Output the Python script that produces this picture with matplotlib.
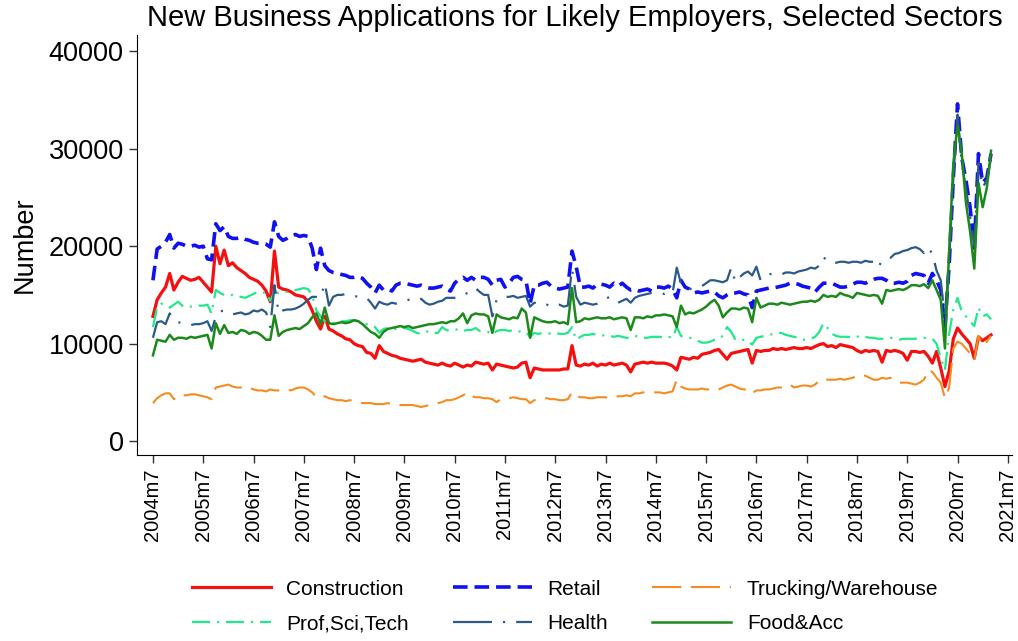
import numpy as np
import matplotlib
matplotlib.use("Agg")
import matplotlib.pyplot as plt

plt.rcParams['font.family'] = ['Liberation Sans', 'DejaVu Sans']
plt.rcParams['lines.scale_dashes'] = False

# monthly values, 2004m7 .. 2021m3 (one row = July..June)
construction = [
    12800, 14500, 15200, 15800, 17200, 15500, 16300, 16900, 16700, 16500, 16600, 16800,
    16300, 15800, 15300, 20000, 18200, 19600, 18000, 18300, 17800, 17500, 17200, 16800,
    16600, 16400, 16000, 15400, 14300, 19500, 15800, 15600, 15500, 15300, 15000, 14900,
    14800, 14300, 13400, 12300, 11500, 12800, 11500, 11300, 11000, 10800, 10500, 10400,
    10000, 9800, 9700, 9100, 9000, 8500, 9800, 9200, 9000, 8800, 8700, 8500,
    8400, 8300, 8200, 8300, 8400, 8100, 8000, 7900, 7800, 8000, 7800, 7700,
    8000, 7800, 7600, 7800, 7700, 8100, 8000, 7900, 8000, 7300, 7900, 7800,
    7700, 7600, 7500, 7600, 8000, 8100, 6500, 7500, 7400, 7300, 7300, 7300,
    7300, 7300, 7400, 7400, 9800, 7800, 7700, 7900, 7800, 8000, 7700, 7900,
    7800, 8000, 7800, 7900, 8000, 7800, 7100, 7900, 8000, 8100, 8000, 8100,
    8000, 8000, 8000, 7900, 7700, 7300, 8600, 8500, 8400, 8600, 8500, 8900,
    9000, 9100, 9300, 9400, 8900, 8400, 9000, 9100, 9200, 9300, 9400, 8000,
    9300, 9200, 9300, 9300, 9500, 9400, 9500, 9400, 9500, 9600, 9500, 9500,
    9600, 9500, 9700, 9900, 10000, 9700, 9800, 9600, 9900, 9800, 9700, 9600,
    9300, 9100, 9300, 9200, 9300, 9200, 8100, 9300, 9200, 9300, 9200, 9000,
    8300, 9200, 9200, 9100, 9200, 8700, 8000, 9200, 7500, 5600, 7200, 10500,
    11600, 11000, 10500, 10000, 8500, 10700, 10300, 10600, 10900]

retail = [
    16500, 19700, 20000, 20400, 21200, 19800, 20300, 20200, 20000, 20000, 20100, 19900,
    20000, 18700, 18600, 22300, 21600, 22000, 21000, 20800, 20800, 20900, 20700, 20600,
    20400, 20300, 20300, 20200, 19900, 22500, 21000, 20600, 20800, 21100, 21200, 21000,
    21100, 21000, 19800, 17600, 19800, 18000, 17500, 17300, 17200, 17100, 17000, 16800,
    16800, 16900, 16700, 16200, 15800, 15200, 16000, 15500, 15600, 15400, 16000, 16200,
    16200, 16100, 16000, 15900, 16000, 15800, 15700, 15700, 15800, 15900, 15600, 15400,
    16200, 16600, 16800, 16500, 16800, 16500, 16800, 16800, 16600, 16000, 16500, 16600,
    15800, 16200, 16800, 16900, 16600, 16500, 14100, 16000, 16000, 16200, 16300, 15900,
    15700, 15600, 15700, 15800, 19500, 17900, 15800, 15800, 15900, 15700, 16100, 16100,
    16000, 15800, 16200, 15900, 16200, 15800, 15500, 15600, 15400, 15500, 15600, 15400,
    15800, 15800, 15700, 15900, 15600, 14700, 16500, 15800, 15600, 15200, 15300, 15200,
    15300, 15400, 15300, 14900, 14700, 15000, 15200, 15200, 15300, 15100, 15000, 13700,
    15400, 15500, 15600, 15700, 15700, 15800, 15900, 16000, 16200, 16200, 16100, 15900,
    15800, 15700, 15300, 15800, 16200, 16200, 16200, 16000, 15800, 15800, 15900, 16100,
    16300, 16300, 16200, 16400, 16600, 16700, 16700, 16500, 16200, 16200, 16300, 16200,
    16400, 17000, 17200, 17100, 17000, 16200, 17200, 16500, 15500, 11800, 18000, 27000,
    34600, 29100, 26800, 24000, 19800, 29500, 26500, 27000, 29500]

trucking = [
    3900, 4400, 4700, 4900, 4900, 4300, 4700, 4700, 4700, 4800, 4800, 4700,
    4600, 4500, 4300, 5500, 5600, 5700, 5800, 5600, 5500, 5500, 5400, 5500,
    5300, 5200, 5200, 5100, 5300, 5200, 5200, 5200, 5300, 5200, 5400, 5500,
    5500, 5300, 5000, 4500, 4500, 4600, 4400, 4300, 4200, 4200, 4100, 4200,
    4100, 4000, 3900, 3900, 3900, 3800, 3800, 3800, 3900, 3800, 3800, 3700,
    3700, 3700, 3700, 3600, 3500, 3600, 3700, 3800, 3900, 4000, 4200, 4200,
    4300, 4500, 4700, 5000, 4600, 4500, 4500, 4400, 4400, 4300, 4000, 4300,
    4400, 4400, 4500, 4400, 4300, 4300, 3900, 4200, 4300, 4400, 4400, 4300,
    4300, 4200, 4200, 4300, 5000, 4600, 4500, 4500, 4400, 4400, 4500, 4500,
    4500, 4400, 4500, 4600, 4600, 4700, 4600, 4900, 4900, 5000, 5000, 5000,
    5000, 5000, 4900, 5000, 5100, 6300, 5600, 5400, 5300, 5300, 5300, 5400,
    5300, 5300, 5200, 5300, 5500, 5700, 5800, 5600, 5400, 5300, 5300, 4900,
    5200, 5200, 5300, 5300, 5400, 5500, 5500, 5600, 5800, 5500, 5600, 5700,
    5700, 5600, 5800, 6200, 6400, 6300, 6300, 6300, 6400, 6300, 6400, 6500,
    6700, 6800, 6700, 6500, 6300, 6300, 6500, 6400, 6500, 6300, 6000, 6000,
    6000, 5900, 5800, 6000, 6300, 7300, 7100, 6500, 6000, 4400, 5500, 9500,
    10200, 10000, 9500, 9000, 8300, 10800, 9800, 10200, 10800]

prof_sci_tech = [
    11700, 13700, 14100, 14000, 13700, 14000, 14300, 13900, 13700, 13800, 13800, 13900,
    13900, 14000, 13100, 15500, 15200, 15000, 14900, 15000, 14800, 14800, 14700, 14900,
    15100, 15300, 15200, 15300, 14400, 15300, 15200, 15300, 15300, 15400, 15500, 15600,
    15700, 15600, 15000, 13400, 12800, 12300, 12100, 12100, 12200, 12300, 12300, 12400,
    12400, 12300, 12200, 12000, 11900, 11700, 11100, 11500, 11600, 11600, 11500, 11700,
    11600, 11500, 11300, 11100, 11000, 11200, 11300, 11100, 11100, 11700, 11400, 11300,
    11400, 11500, 11300, 11400, 11400, 11600, 11300, 11200, 11200, 10900, 11300, 11400,
    11400, 11300, 11400, 11300, 11200, 11200, 10700, 11100, 11000, 11100, 11100, 11000,
    11100, 11000, 11000, 11100, 11700, 10400, 10700, 10900, 10900, 11000, 10900, 10800,
    10900, 10800, 10700, 10800, 10700, 10600, 10600, 10800, 10700, 10600, 10600, 10700,
    10700, 10700, 10600, 10700, 10600, 11700, 10800, 10600, 10600, 10500, 10300, 10100,
    10100, 10200, 10400, 10500, 10800, 11700, 11200, 10400, 10300, 10400, 10300, 9900,
    10600, 10700, 10800, 10900, 11000, 11100, 11100, 10900, 10800, 10700, 10600, 10400,
    10400, 10500, 10700, 11200, 12100, 11600, 11000, 10800, 10700, 10700, 10700, 10600,
    10700, 10800, 10700, 10600, 10600, 10500, 10500, 10500, 10600, 10500, 10400, 10500,
    10500, 10500, 10500, 10600, 10600, 10500, 10500, 10000, 8500, 7300, 11000, 13500,
    14700, 13300, 12800, 12300, 11800, 13700, 12800, 13000, 12500]

health = [
    10600, 12200, 12300, 12000, 13100, 12400, 12200, 12100, 12000, 11900, 12000, 12000,
    12100, 12300, 11300, 12800, 13300, 13400, 13200, 13000, 13100, 13200, 13000, 13100,
    13400, 13300, 13500, 13200, 11700, 16000, 13100, 13400, 13500, 13500, 13600, 13800,
    14100, 14500, 14800, 14800, 14700, 16200, 13900, 14800, 15000, 15000, 15100, 15000,
    14900, 14800, 14800, 14700, 14200, 13600, 14300, 14100, 14000, 14200, 14100, 14200,
    14300, 14500, 14500, 14400, 14600, 14200, 14000, 14100, 14300, 14400, 14700, 14700,
    14700, 14800, 14900, 15200, 15300, 15700, 15300, 15000, 15000, 12800, 14500, 14700,
    14800, 14800, 14900, 14700, 14800, 14900, 13800, 14200, 14100, 13900, 14000, 13800,
    13900, 14000, 13800, 13900, 17700, 14800, 14000, 14200, 14100, 14000, 14100, 14300,
    14600, 14800, 14500, 14200, 14400, 14600, 14200, 14700, 14900, 15000, 15100, 15200,
    15200, 15200, 15100, 15300, 15200, 17800, 16200, 15700, 15600, 15600, 15700, 15900,
    16200, 16500, 16500, 16400, 16300, 16500, 17800, 16300, 16800, 17200, 17400, 17000,
    17900, 16500, 16800, 17100, 17200, 17200, 17100, 17300, 17300, 17200, 17400, 17500,
    17600, 17800, 17700, 18000, 18900, 18400, 18300, 18300, 18400, 18400, 18300, 18400,
    18400, 18300, 18500, 18400, 18400, 17800, 18500, 18600, 18800, 19200, 19300, 19500,
    19600, 19800, 19900, 19700, 19300, 19900, 19200, 17500, 16500, 12500, 18500, 27000,
    33500, 28500, 26000, 23000, 20000, 28500, 26000, 26800, 29000]

food_acc = [
    8800, 10400, 10300, 10200, 10900, 10400, 10600, 10600, 10500, 10700, 10600, 10700,
    10800, 10900, 9500, 12100, 11000, 11900, 11100, 11200, 11000, 11400, 11300, 11000,
    11200, 11100, 10800, 10400, 10400, 12900, 10800, 11200, 11400, 11500, 11600, 11500,
    11800, 12100, 12700, 13100, 12000, 13700, 12100, 12000, 12100, 12200, 12100, 12200,
    12400, 12300, 12000, 11600, 11200, 11000, 10600, 11200, 11500, 11600, 11700, 11800,
    11700, 11800, 11600, 11700, 11800, 11900, 12000, 12000, 12100, 12200, 12100, 12300,
    12300, 12600, 13100, 12100, 12900, 13100, 13000, 13000, 12800, 11100, 13000, 12700,
    12600, 12500, 12700, 12600, 13600, 13200, 10600, 12700, 12500, 12300, 12200, 12200,
    12300, 12100, 12200, 12000, 15700, 12200, 12300, 12600, 12500, 12600, 12700, 12600,
    12600, 12700, 12500, 12600, 12700, 12600, 11400, 12700, 12700, 12600, 12800, 12700,
    12900, 12900, 13000, 12900, 12800, 11700, 13900, 13000, 13200, 13100, 13300, 13500,
    13800, 14200, 14500, 13900, 12700, 13200, 13600, 13600, 13500, 13700, 13600, 12200,
    14700, 13700, 13900, 14100, 14100, 14000, 14200, 14100, 14000, 14100, 14200, 14300,
    14300, 14400, 14300, 14500, 15000, 14800, 14900, 14800, 15200, 15000, 14900, 14700,
    15200, 15100, 15000, 14900, 15000, 14900, 14100, 15500, 15400, 15500, 15600, 15500,
    15700, 16000, 16000, 15900, 16100, 15700, 16500, 15500, 14500, 9500, 19500, 28500,
    32400, 29600, 24500, 21500, 17700, 26500, 24000, 26000, 29800]

tick_labels = ["%dm7" % y for y in range(2004, 2022)]

months = np.arange(len(construction))

fig = plt.figure(figsize=(10.18, 6.41), dpi=100)
ax = fig.add_axes([0.1346, 0.290, 0.8595, 0.655])

l1, = ax.plot(months, construction, color="#f50f0f", lw=2.3, label="Construction")
l2, = ax.plot(months, retail, color="#1010f0", lw=2.6, dashes=(10.5, 5), label="Retail")
l3, = ax.plot(months, trucking, color="#f68b1f", lw=1.5, dashes=(21, 7), label="Trucking/Warehouse")
l4, = ax.plot(months, prof_sci_tech, color="#22e88c", lw=1.6, dashes=(13, 5, 1.5, 5), label="Prof,Sci,Tech")
l5, = ax.plot(months, health, color="#2b5a86", lw=1.6, dashes=(28, 8, 1.5, 8), label="Health")
l6, = ax.plot(months, food_acc, color="#1b8a1b", lw=1.8, label="Food&Acc")

ax.set_xlim(-3.8, 205)
ax.set_ylim(-1436, 41640)
ax.set_xticks(np.arange(0, 12 * len(tick_labels), 12))
ax.set_xticklabels(tick_labels, rotation=90, fontsize=14.5)
ax.set_yticks([0, 10000, 20000, 30000, 40000])
ax.set_yticklabels(["0", "10000", "20000", "30000", "40000"], fontsize=19.5)
ax.tick_params(length=6, width=1, color="#333333")
ax.spines['top'].set_visible(False)
ax.spines['right'].set_visible(False)
ax.set_ylabel("Number", fontsize=19.5, labelpad=8)
ax.set_title("New Business Applications for Likely Employers, Selected Sectors",
             fontsize=21, pad=7)

fig.legend([l1, l4, l2, l5, l3, l6],
           ["Construction", "Prof,Sci,Tech", "Retail", "Health", "Trucking/Warehouse", "Food&Acc"],
           ncol=3, loc="center", bbox_to_anchor=(0.555, 0.054), frameon=False,
           fontsize=15, handlelength=3.8, handletextpad=0.75, columnspacing=2.1,
           labelspacing=0.75)

fig.savefig("out.png", dpi=100)
